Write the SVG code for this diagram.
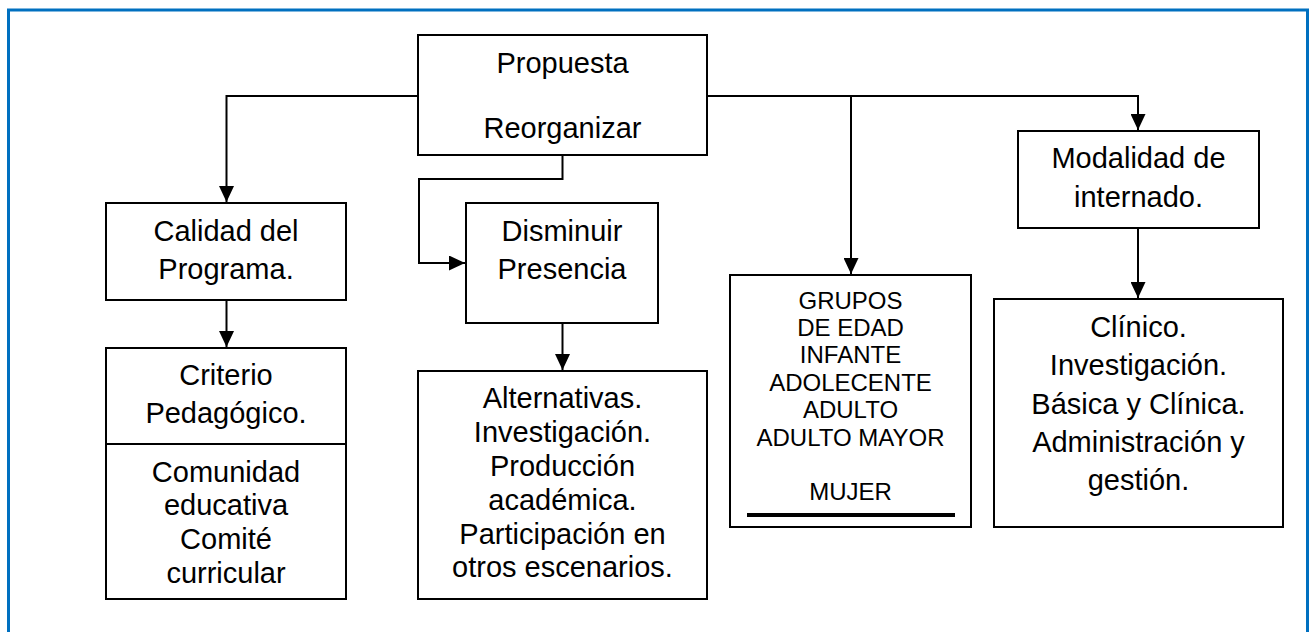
<svg xmlns="http://www.w3.org/2000/svg" width="1310" height="632" viewBox="0 0 1310 632">
<defs>
<style>
.frame{fill:none;stroke:#0070C0;stroke-width:3}
.box{fill:#fff;stroke:#000;stroke-width:2}
.t{font-family:"Liberation Sans",Arial,sans-serif;font-size:29px;fill:#000;text-anchor:middle}
.s{font-family:"Liberation Sans",Arial,sans-serif;font-size:24px;fill:#000;text-anchor:middle}
.c{fill:none;stroke:#000;stroke-width:2}
</style>
<marker id="arr" markerUnits="userSpaceOnUse" markerWidth="16" markerHeight="15" refX="16" refY="7.5" orient="auto">
<path d="M0,0 L16,7.5 L0,15 z" fill="#000"/>
</marker>
</defs>
<rect x="0" y="0" width="1310" height="632" fill="#fff"/>
<path class="frame" d="M8.5,640 V10 H1307.5 V640"/>
<g id="connectors">
<path class="c" d="M418,96 H226.5 V202" marker-end="url(#arr)"/>
<path class="c" d="M562.5,155 V179 H419 V263 H465" marker-end="url(#arr)"/>
<path class="c" d="M707,96 H1138 V130" marker-end="url(#arr)"/>
<path class="c" d="M851,96 V274" marker-end="url(#arr)"/>
<path class="c" d="M226.5,300 V347" marker-end="url(#arr)"/>
<path class="c" d="M562.5,323 V370" marker-end="url(#arr)"/>
<path class="c" d="M1138,228 V298" marker-end="url(#arr)"/>
</g>
<g id="propuesta">
<rect class="box" x="418" y="35" width="289" height="120"/>
<text class="t" x="562.5" y="73">Propuesta</text>
<text class="t" x="562.5" y="138">Reorganizar</text>
</g>
<g id="calidad">
<rect class="box" x="106" y="203" width="240" height="97"/>
<text class="t" x="226" y="241">Calidad del</text>
<text class="t" x="226" y="279">Programa.</text>
</g>
<g id="criterio">
<rect class="box" x="106" y="348" width="240" height="251"/>
<line x1="106" y1="444" x2="346" y2="444" stroke="#000" stroke-width="2"/>
<text class="t" x="226" y="385">Criterio</text>
<text class="t" x="226" y="423">Pedagógico.</text>
<text class="t" x="226" y="482">Comunidad</text>
<text class="t" x="226" y="515">educativa</text>
<text class="t" x="226" y="549">Comité</text>
<text class="t" x="226" y="583">curricular</text>
</g>
<g id="disminuir">
<rect class="box" x="466" y="203" width="192" height="120"/>
<text class="t" x="562" y="241">Disminuir</text>
<text class="t" x="562" y="279">Presencia</text>
</g>
<g id="alternativas">
<rect class="box" x="418" y="371" width="289" height="228"/>
<text class="t" x="562.5" y="408">Alternativas.</text>
<text class="t" x="562.5" y="442">Investigación.</text>
<text class="t" x="562.5" y="476">Producción</text>
<text class="t" x="562.5" y="510">académica.</text>
<text class="t" x="562.5" y="544">Participación en</text>
<text class="t" x="562.5" y="577">otros escenarios.</text>
</g>
<g id="grupos">
<rect class="box" x="730" y="275" width="241" height="252"/>
<text class="s" x="850.5" y="309">GRUPOS</text>
<text class="s" x="850.5" y="336">DE EDAD</text>
<text class="s" x="850.5" y="363">INFANTE</text>
<text class="s" x="850.5" y="391">ADOLECENTE</text>
<text class="s" x="850.5" y="418">ADULTO</text>
<text class="s" x="850.5" y="446">ADULTO MAYOR</text>
<text class="s" x="850.5" y="500">MUJER</text>
<line x1="747" y1="515" x2="955" y2="515" stroke="#000" stroke-width="4"/>
</g>
<g id="modalidad">
<rect class="box" x="1018" y="131" width="241" height="97"/>
<text class="t" x="1138.5" y="168">Modalidad de</text>
<text class="t" x="1138.5" y="207">internado.</text>
</g>
<g id="clinico">
<rect class="box" x="994" y="299" width="289" height="228"/>
<text class="t" x="1138.5" y="337">Clínico.</text>
<text class="t" x="1138.5" y="375">Investigación.</text>
<text class="t" x="1138.5" y="414">Básica y Clínica.</text>
<text class="t" x="1138.5" y="452">Administración y</text>
<text class="t" x="1138.5" y="490">gestión.</text>
</g>
</svg>
